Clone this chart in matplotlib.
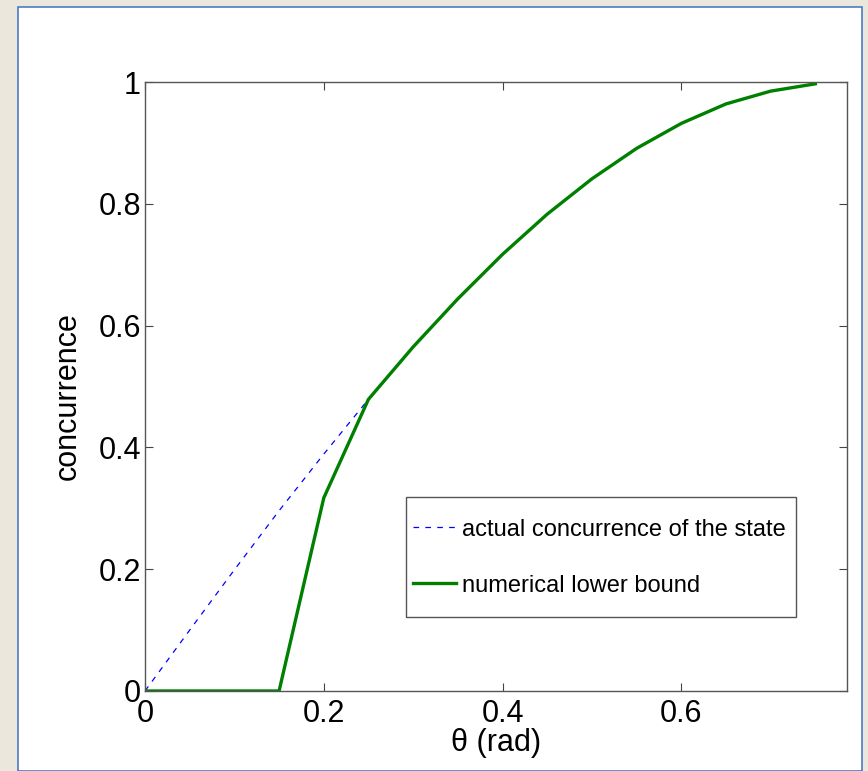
import matplotlib
matplotlib.use("Agg")
import matplotlib.pyplot as plt
from matplotlib.patches import Rectangle

theta = [0.0, 0.05, 0.10, 0.15, 0.20, 0.25, 0.30, 0.35, 0.40, 0.45, 0.50,
         0.55, 0.60, 0.65, 0.70, 0.75]
actual = [0.0, 0.100, 0.199, 0.296, 0.389, 0.479, 0.565, 0.644, 0.717, 0.783,
          0.841, 0.891, 0.932, 0.964, 0.985, 0.997]
lower = [0.0, 0.0, 0.0, 0.0, 0.317, 0.479, 0.565, 0.644, 0.717, 0.783,
         0.841, 0.891, 0.932, 0.964, 0.985, 0.997]
xticks = [0, 0.2, 0.4, 0.6]
xticklabels = ["0", "0.2", "0.4", "0.6"]
yticks = [0, 0.2, 0.4, 0.6, 0.8, 1.0]
yticklabels = ["0", "0.2", "0.4", "0.6", "0.8", "1"]

plt.rcParams['font.family'] = ['Liberation Sans', 'DejaVu Sans']

W, H = 868, 771
fig = plt.figure(figsize=(W / 100, H / 100), dpi=100, facecolor='#ebe7dd')
# white panel with blue border
fig.patches.append(Rectangle((18 / W, 0), (862 - 18) / W, (H - 7) / H,
                             transform=fig.transFigure, facecolor='white',
                             edgecolor='#4a7bc4', linewidth=1.2, zorder=-10))

ax = fig.add_axes([145 / W, (H - 691) / H, (847 - 145) / W, (691 - 82) / H])
ax.plot(theta, actual, linestyle=(0, (4.5, 5)), color='#0000ff', linewidth=0.9,
        label='actual concurrence of the state')
ax.plot(theta, lower, color='#008000', linewidth=2.4, label='numerical lower bound')

ax.set_xlim(0, 0.7854)
ax.set_ylim(0, 1)
ax.set_xticks(xticks)
ax.set_xticklabels(xticklabels)
ax.set_yticks(yticks)
ax.set_yticklabels(yticklabels)
ax.tick_params(direction='in', length=6, width=0.8, color='#444444',
               top=True, right=True, labelsize=22, pad=3)
ax.tick_params(axis='x', pad=6)
for s in ax.spines.values():
    s.set_color('#555555')
    s.set_linewidth(1.0)

ax.set_xlabel('θ (rad)', fontsize=22, labelpad=-1)
ax.set_ylabel('concurrence', fontsize=22, labelpad=12)
ax.yaxis.set_label_coords(-0.088, 0.485)

# legend box
ax.add_patch(Rectangle((0.372, 0.1215), 0.555, 0.197, transform=ax.transAxes,
                       facecolor='white', edgecolor='#555555', linewidth=1.0,
                       zorder=4))
leg = ax.legend(loc='center left', bbox_to_anchor=(0.372, 0.219),
                fontsize=17, frameon=False, handlelength=1.8, handletextpad=0.25,
                labelspacing=1.45, borderpad=0.3, borderaxespad=0)
leg.set_zorder(5)

fig.savefig('out.png', dpi=100, facecolor=fig.get_facecolor())
